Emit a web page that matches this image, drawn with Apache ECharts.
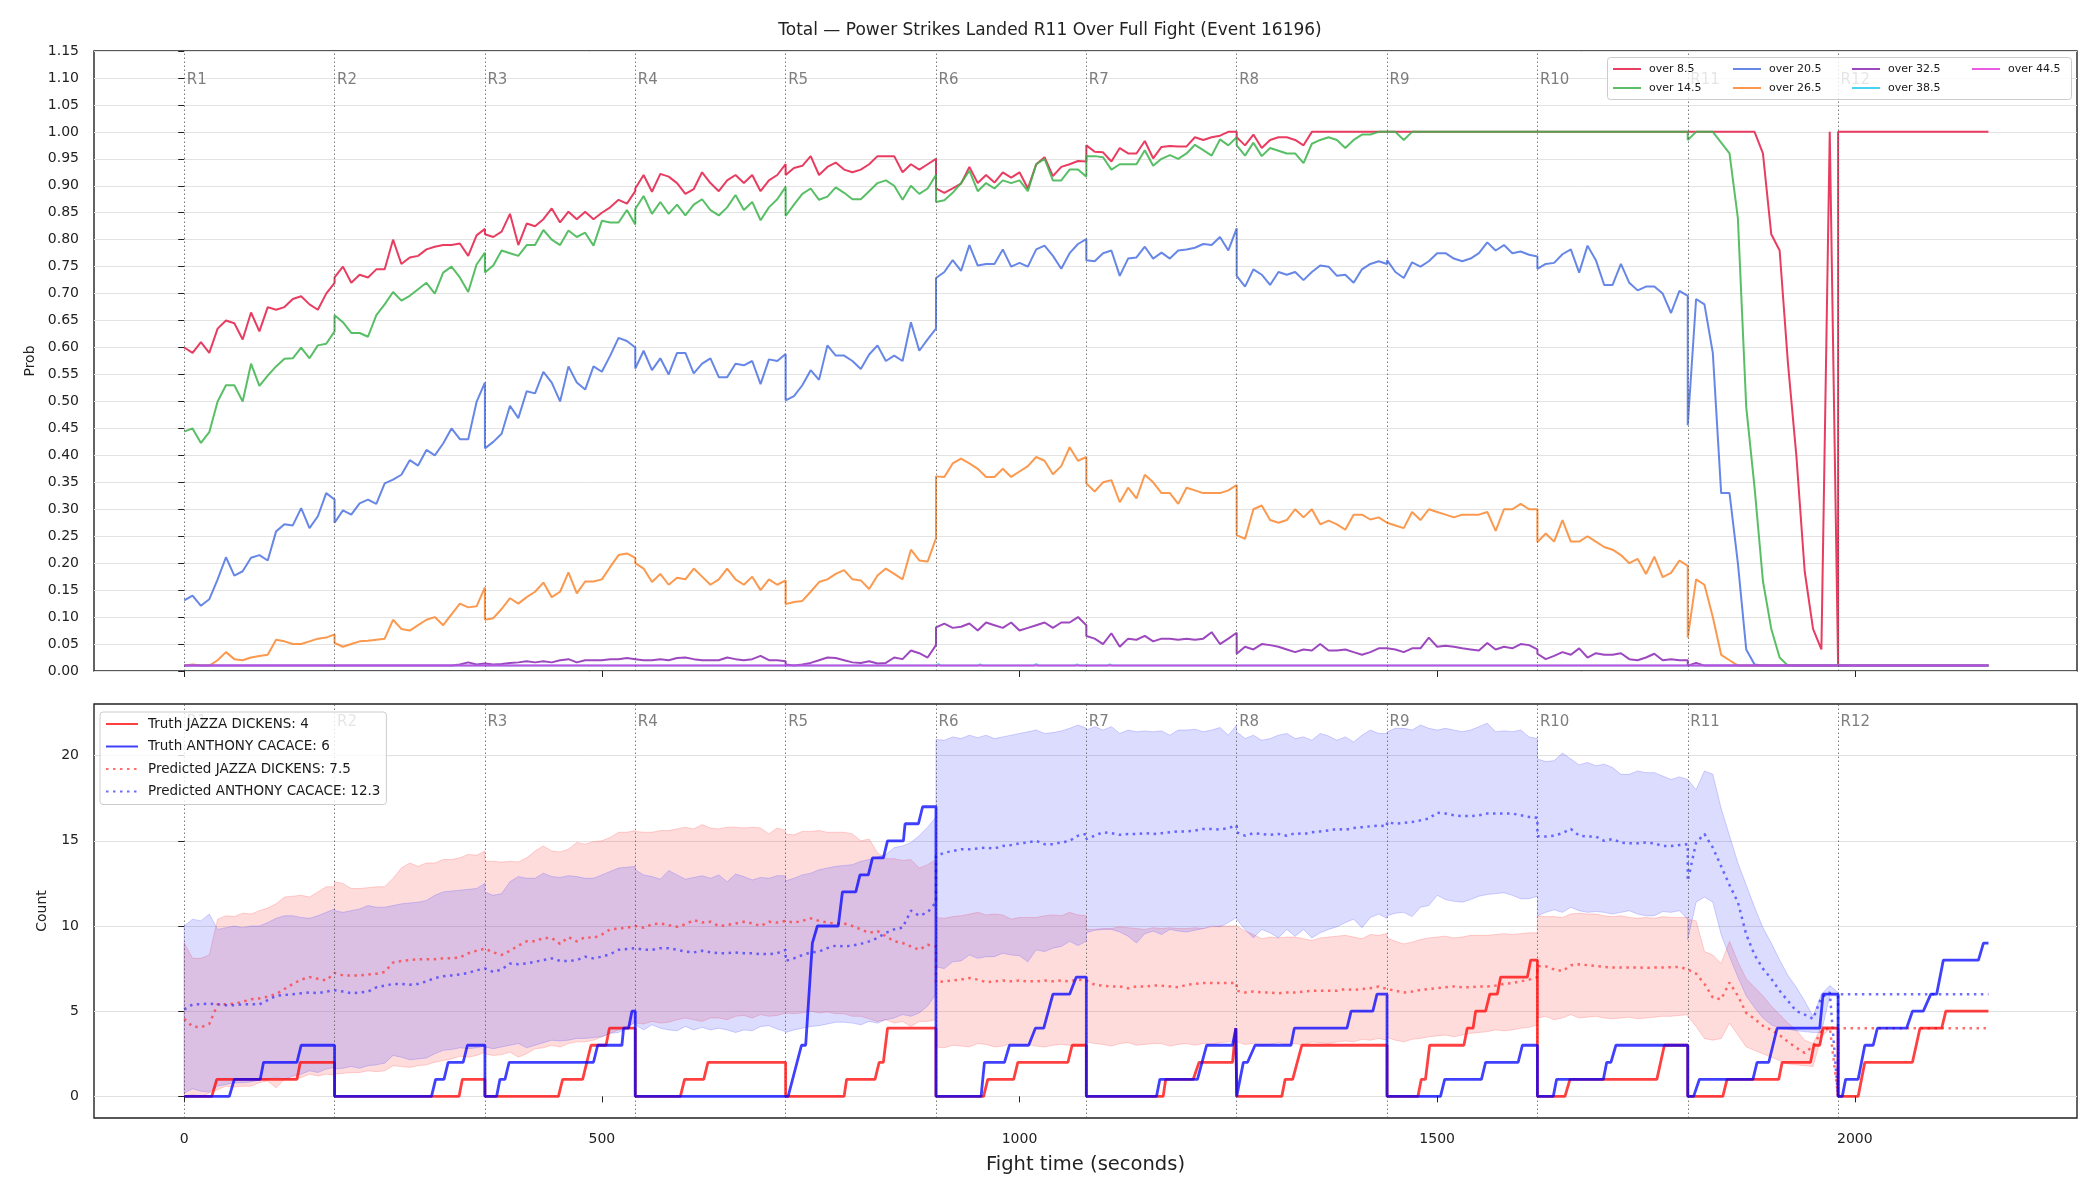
<!DOCTYPE html>
<html><head><meta charset="utf-8">
<script src="https://cdn.jsdelivr.net/npm/echarts@6/dist/echarts.min.js"></script>
<style>html,body{margin:0;padding:0;background:#fff}#c{width:2100px;height:1200px}</style>
</head><body><div id="c"></div>
<script>
// ---------------- DATA ----------------
const roundStarts = [0,180,360,540,720,900,1080,1260,1440,1620,1800,1980];
const roundLabels = ['R1','R2','R3','R4','R5','R6','R7','R8','R9','R10','R11','R12'];
const xTicks = [0,500,1000,1500,2000];
const countTicks = [0,5,10,15,20];
const SAMPLE_STEP = 10;      // seconds between samples inside a round
const SAMPLES_PER_ROUND = 19; // 0..180 s

// Probabilities, one sub-array per round (samples every 10 s, 0..180)
const over85 = [
 [0.60,0.59,0.61,0.59,0.635,0.65,0.645,0.615,0.665,0.63,0.675,0.67,0.675,0.69,0.695,0.68,0.67,0.70,0.72],
 [0.73,0.75,0.72,0.735,0.73,0.745,0.745,0.80,0.755,0.767,0.77,0.782,0.787,0.79,0.79,0.793,0.77,0.808,0.82],
 [0.81,0.805,0.815,0.848,0.79,0.83,0.825,0.838,0.858,0.832,0.852,0.838,0.852,0.838,0.85,0.86,0.874,0.867,0.89],
 [0.895,0.92,0.889,0.922,0.917,0.905,0.885,0.894,0.925,0.905,0.89,0.91,0.92,0.905,0.92,0.89,0.91,0.92,0.94],
 [0.92,0.933,0.937,0.955,0.92,0.935,0.943,0.93,0.925,0.93,0.94,0.955,0.955,0.955,0.925,0.94,0.93,0.94,0.95],
 [0.895,0.887,0.895,0.904,0.935,0.905,0.92,0.906,0.925,0.915,0.925,0.895,0.94,0.953,0.918,0.935,0.94,0.946,0.945],
 [0.975,0.963,0.962,0.945,0.97,0.96,0.96,0.983,0.951,0.972,0.974,0.973,0.973,0.99,0.985,0.99,0.993,1,1],
 [0.99,0.975,0.995,0.97,0.985,0.99,0.99,0.985,0.975,1,1,1,1,1,1,1,1,1,1],
 [1,1,1,1,1,1,1,1,1,1,1,1,1,1,1,1,1,1,1],
 [1,1,1,1,1,1,1,1,1,1,1,1,1,1,1,1,1,1,1],
 [1,1,1,1,1,1,1,1,1,0.96,0.81,0.78,0.57,0.40,0.185,0.078,0.04,1,0.01],
 [1,1,1,1,1,1,1,1,1,1,1,1,1,1,1,1,1,1,1]
];
const over145 = [
 [0.444,0.45,0.423,0.443,0.5,0.53,0.53,0.5,0.57,0.529,0.548,0.565,0.579,0.58,0.6,0.58,0.604,0.607,0.63],
 [0.66,0.647,0.627,0.627,0.62,0.66,0.68,0.703,0.687,0.696,0.708,0.72,0.7,0.739,0.75,0.73,0.703,0.754,0.776],
 [0.739,0.752,0.78,0.775,0.77,0.79,0.79,0.818,0.8,0.79,0.817,0.805,0.813,0.789,0.835,0.832,0.832,0.855,0.828],
 [0.857,0.881,0.848,0.87,0.848,0.865,0.845,0.865,0.875,0.855,0.845,0.86,0.883,0.855,0.87,0.836,0.86,0.875,0.898],
 [0.844,0.865,0.885,0.895,0.874,0.88,0.897,0.887,0.875,0.875,0.89,0.905,0.91,0.9,0.874,0.9,0.885,0.895,0.92],
 [0.87,0.873,0.887,0.905,0.928,0.89,0.905,0.895,0.91,0.905,0.91,0.89,0.94,0.95,0.91,0.91,0.93,0.93,0.917],
 [0.955,0.955,0.953,0.93,0.94,0.94,0.94,0.966,0.937,0.95,0.957,0.95,0.96,0.976,0.966,0.956,0.986,0.975,0.99],
 [0.975,0.956,0.98,0.955,0.97,0.965,0.96,0.96,0.942,0.978,0.985,0.99,0.985,0.97,0.985,0.995,0.995,1,1],
 [1,1,0.985,1,1,1,1,1,1,1,1,1,1,1,1,1,1,1,1],
 [1,1,1,1,1,1,1,1,1,1,1,1,1,1,1,1,1,1,1],
 [0.985,1,1,1,0.98,0.96,0.84,0.49,0.34,0.167,0.078,0.025,0.01,0.01,0.01,0.01,0.01,0.01,0.01],
 [0.01,0.01,0.01,0.01,0.01,0.01,0.01,0.01,0.01,0.01,0.01,0.01,0.01,0.01,0.01,0.01,0.01,0.01,0.01]
];
const over205 = [
 [0.131,0.14,0.121,0.133,0.17,0.211,0.177,0.185,0.21,0.215,0.205,0.259,0.272,0.27,0.302,0.265,0.287,0.33,0.318],
 [0.275,0.298,0.29,0.311,0.318,0.31,0.348,0.355,0.364,0.391,0.381,0.41,0.4,0.422,0.45,0.43,0.43,0.499,0.535],
 [0.413,0.425,0.44,0.492,0.469,0.519,0.515,0.555,0.535,0.5,0.565,0.535,0.522,0.565,0.555,0.585,0.618,0.612,0.6],
 [0.561,0.594,0.558,0.58,0.55,0.59,0.59,0.552,0.57,0.58,0.545,0.545,0.57,0.567,0.575,0.532,0.578,0.575,0.588],
 [0.502,0.51,0.53,0.558,0.54,0.604,0.585,0.585,0.575,0.56,0.587,0.604,0.575,0.585,0.575,0.647,0.594,0.615,0.635],
 [0.729,0.74,0.762,0.742,0.79,0.752,0.755,0.755,0.782,0.75,0.757,0.75,0.782,0.789,0.77,0.746,0.775,0.792,0.801],
 [0.762,0.76,0.775,0.78,0.733,0.765,0.767,0.787,0.765,0.776,0.765,0.78,0.782,0.785,0.792,0.79,0.805,0.78,0.821],
 [0.733,0.713,0.745,0.735,0.716,0.74,0.735,0.74,0.725,0.74,0.752,0.75,0.733,0.735,0.72,0.745,0.755,0.76,0.755],
 [0.762,0.74,0.729,0.758,0.75,0.76,0.775,0.775,0.765,0.76,0.765,0.775,0.795,0.78,0.79,0.775,0.778,0.772,0.769],
 [0.746,0.755,0.757,0.773,0.782,0.739,0.789,0.762,0.716,0.716,0.755,0.72,0.706,0.713,0.713,0.7,0.664,0.705,0.696],
 [0.456,0.69,0.68,0.59,0.33,0.33,0.2,0.04,0.012,0.01,0.01,0.01,0.01,0.01,0.01,0.01,0.01,0.01,0.01],
 [0.01,0.01,0.01,0.01,0.01,0.01,0.01,0.01,0.01,0.01,0.01,0.01,0.01,0.01,0.01,0.01,0.01,0.01,0.01]
];
const over265 = [
 [0.01,0.012,0.01,0.01,0.02,0.035,0.022,0.02,0.025,0.028,0.03,0.058,0.055,0.05,0.05,0.055,0.06,0.062,0.068],
 [0.052,0.045,0.05,0.055,0.056,0.058,0.06,0.095,0.078,0.075,0.085,0.095,0.1,0.085,0.105,0.125,0.118,0.12,0.155],
 [0.095,0.098,0.115,0.135,0.125,0.137,0.147,0.164,0.137,0.147,0.183,0.144,0.166,0.166,0.17,0.193,0.215,0.218,0.21],
 [0.2,0.19,0.165,0.18,0.16,0.173,0.17,0.19,0.175,0.16,0.17,0.19,0.17,0.16,0.175,0.15,0.17,0.16,0.168],
 [0.124,0.128,0.13,0.147,0.165,0.17,0.18,0.187,0.17,0.168,0.152,0.177,0.19,0.18,0.17,0.225,0.205,0.203,0.246],
 [0.361,0.36,0.385,0.394,0.385,0.375,0.36,0.36,0.375,0.36,0.37,0.38,0.397,0.39,0.365,0.38,0.415,0.39,0.397],
 [0.348,0.333,0.35,0.354,0.313,0.34,0.32,0.364,0.35,0.33,0.33,0.31,0.34,0.335,0.33,0.33,0.33,0.335,0.345],
 [0.252,0.245,0.3,0.307,0.28,0.275,0.28,0.3,0.285,0.3,0.272,0.279,0.272,0.262,0.29,0.29,0.281,0.285,0.275],
 [0.275,0.27,0.265,0.295,0.28,0.3,0.295,0.29,0.285,0.29,0.29,0.29,0.295,0.26,0.3,0.3,0.31,0.3,0.3],
 [0.239,0.255,0.24,0.28,0.24,0.24,0.25,0.24,0.23,0.225,0.215,0.2,0.208,0.18,0.212,0.174,0.182,0.205,0.195],
 [0.062,0.17,0.16,0.1,0.03,0.02,0.01,0.01,0.01,0.01,0.01,0.01,0.01,0.01,0.01,0.01,0.01,0.01,0.01],
 [0.01,0.01,0.01,0.01,0.01,0.01,0.01,0.01,0.01,0.01,0.01,0.01,0.01,0.01,0.01,0.01,0.01,0.01,0.01]
];
const over325 = [
 [0.01,0.01,0.01,0.01,0.01,0.01,0.01,0.01,0.01,0.01,0.01,0.01,0.01,0.01,0.01,0.01,0.01,0.01,0.01],
 [0.01,0.01,0.01,0.01,0.01,0.01,0.01,0.01,0.01,0.01,0.01,0.01,0.01,0.01,0.01,0.012,0.016,0.012,0.014],
 [0.012,0.012,0.013,0.015,0.016,0.018,0.016,0.018,0.016,0.02,0.022,0.016,0.02,0.02,0.02,0.022,0.022,0.024,0.022],
 [0.022,0.02,0.02,0.022,0.02,0.024,0.025,0.022,0.02,0.02,0.02,0.025,0.022,0.02,0.022,0.028,0.02,0.02,0.018],
 [0.012,0.01,0.012,0.015,0.02,0.025,0.024,0.02,0.016,0.015,0.018,0.014,0.015,0.025,0.022,0.038,0.033,0.025,0.048],
 [0.081,0.088,0.08,0.082,0.088,0.075,0.09,0.085,0.08,0.09,0.075,0.08,0.085,0.09,0.08,0.09,0.09,0.1,0.085],
 [0.065,0.06,0.05,0.07,0.045,0.06,0.058,0.065,0.055,0.06,0.06,0.058,0.06,0.058,0.06,0.072,0.05,0.06,0.071],
 [0.032,0.045,0.04,0.05,0.048,0.045,0.04,0.035,0.04,0.038,0.05,0.038,0.038,0.04,0.035,0.03,0.035,0.042,0.042],
 [0.045,0.04,0.035,0.042,0.042,0.062,0.045,0.047,0.045,0.042,0.04,0.038,0.052,0.04,0.045,0.042,0.05,0.048,0.04],
 [0.032,0.022,0.028,0.035,0.03,0.042,0.025,0.033,0.03,0.03,0.033,0.022,0.02,0.025,0.032,0.02,0.022,0.02,0.02],
 [0.01,0.015,0.01,0.01,0.01,0.01,0.01,0.01,0.01,0.01,0.01,0.01,0.01,0.01,0.01,0.01,0.01,0.01,0.01],
 [0.01,0.01,0.01,0.01,0.01,0.01,0.01,0.01,0.01,0.01,0.01,0.01,0.01,0.01,0.01,0.01,0.01,0.01,0.01]
];
// nearly flat series: [time, prob]
const over385 = [[0,0.01],[900,0.01],[903,0.013],[906,0.01],[950,0.01],[953,0.012],[956,0.01],[1017,0.01],[1020,0.013],[1023,0.01],[1066,0.01],[1069,0.012],[1072,0.01],[1105,0.01],[1108,0.012],[1111,0.01],[2160,0.01]];
const over445 = [[0,0.01],[2160,0.01]];

// Truth step counts: [time, count]
const truthRed = [
 [0,0],[33,0],[39,1],[135,1],[139,2],[180,2],
 [180,0],[329,0],[333,1],[360,1],
 [360,0],[448,0],[453,1],[477,1],[482,2],[487,3],[505,3],[509,4],[540,4],
 [540,0],[594,0],[599,1],[622,1],[627,2],[720,2],
 [720,0],[790,0],[793,1],[827,1],[832,2],[837,2],[842,4],[900,4],
 [900,0],[957,0],[962,1],[993,1],[998,2],[1058,2],[1063,3],[1080,3],
 [1080,0],[1172,0],[1175,1],[1208,1],[1215,2],[1255,2],[1259,4],[1260,4],
 [1260,0],[1314,0],[1318,1],[1327,1],[1338,3],[1440,3],
 [1440,0],[1477,0],[1481,1],[1486,1],[1491,3],[1532,3],[1536,4],[1543,4],[1546,5],[1558,5],[1563,6],[1572,6],[1576,7],[1608,7],[1612,8],[1620,8],
 [1620,0],[1653,0],[1659,1],[1763,1],[1772,3],[1800,3],
 [1800,0],[1842,0],[1847,1],[1909,1],[1913,2],[1947,2],[1951,3],[1958,3],[1962,4],[1980,4],
 [1980,0],[2004,0],[2012,2],[2069,2],[2078,4],[2104,4],[2109,5],[2160,5]
];
const truthBlue = [
 [0,0],[54,0],[60,1],[91,1],[95,2],[135,2],[140,3],[180,3],
 [180,0],[296,0],[301,1],[311,1],[316,2],[334,2],[339,3],[360,3],
 [360,0],[374,0],[378,1],[384,1],[389,2],[490,2],[495,3],[524,3],[526,4],[532,4],[536,5],[540,5],
 [540,0],[720,0],
 [720,0],[723,0],[739,3],[744,3],[752,9],[758,10],[783,10],[788,12],[804,12],[809,13],[819,13],[824,14],[837,14],[842,15],[861,15],[863,16],[879,16],[884,17],[900,17],
 [900,0],[954,0],[958,2],[982,2],[988,3],[1011,3],[1019,4],[1029,4],[1040,6],[1060,6],[1068,7],[1080,7],
 [1080,0],[1164,0],[1168,1],[1213,1],[1224,3],[1255,3],[1259,4],[1260,4],
 [1260,0],[1268,2],[1273,2],[1282,3],[1325,3],[1329,4],[1392,4],[1397,5],[1423,5],[1428,6],[1440,6],
 [1440,0],[1504,0],[1509,1],[1553,1],[1558,2],[1597,2],[1602,3],[1620,3],
 [1620,0],[1639,0],[1643,1],[1699,1],[1703,2],[1708,2],[1714,3],[1800,3],
 [1800,0],[1807,0],[1814,1],[1878,1],[1883,2],[1897,2],[1902,3],[1904,3],[1907,4],[1958,4],[1962,6],[1980,6],
 [1980,0],[1985,0],[1989,1],[2004,1],[2012,3],[2022,3],[2027,4],[2062,4],[2069,5],[2082,5],[2091,6],[2098,6],[2106,8],[2148,8],[2154,9],[2160,9]
];

// Predicted means per round (10 s samples)
const predRed = [
 [4.55,4.1,4.05,4.25,5.4,5.4,5.45,5.55,5.7,5.75,5.85,6.0,6.3,6.6,6.85,7.0,6.9,6.8,7.25],
 [7.25,7.1,7.1,7.1,7.15,7.2,7.3,7.85,7.95,8.0,8.05,8.05,8.05,8.1,8.1,8.15,8.4,8.55,8.67],
 [8.6,8.45,8.3,8.55,8.85,9.1,9.1,9.3,9.3,8.95,9.35,9.1,9.35,9.3,9.5,9.8,9.85,9.9,10.0],
 [10.0,9.9,10.1,10.15,10.05,9.95,10.1,10.35,10.2,10.25,10.0,10.05,10.15,10.25,10.15,10.0,10.25,10.2,10.3],
 [10.2,10.2,10.3,10.45,10.3,10.2,10.15,10.15,10.0,9.8,9.6,9.7,9.4,9.1,9.0,8.8,8.6,8.9,8.8],
 [6.7,6.75,6.8,6.85,6.95,6.85,6.7,6.75,6.8,6.75,6.8,6.75,6.75,6.8,6.75,6.8,6.75,6.85,6.8],
 [6.75,6.55,6.5,6.45,6.45,6.35,6.45,6.45,6.5,6.5,6.45,6.4,6.55,6.6,6.65,6.65,6.65,6.65,6.65],
 [6.2,6.1,6.15,6.1,6.1,6.05,6.1,6.1,6.15,6.2,6.2,6.2,6.2,6.3,6.25,6.3,6.35,6.45,6.3],
 [6.3,6.2,6.1,6.15,6.25,6.3,6.35,6.4,6.45,6.4,6.4,6.45,6.45,6.5,6.6,6.65,6.75,6.85,7.0],
 [7.65,7.63,7.45,7.35,7.7,7.75,7.7,7.65,7.6,7.56,7.57,7.56,7.56,7.55,7.56,7.56,7.58,7.6,7.45],
 [7.36,7.2,6.6,5.8,5.7,6.68,5.9,4.9,4.55,4.14,3.9,3.6,3.2,2.85,2.55,2.95,3.8,4.04,0],
 [4,4,4,4,4,4,4,4,4,4,4,4,4,4,4,4,4,4,4]
];
const predBlue = [
 [5.1,5.4,5.4,5.45,5.4,5.35,5.35,5.4,5.4,5.4,5.65,5.9,5.95,6.0,6.05,6.1,6.05,6.15,6.23],
 [6.2,6.15,6.05,6.1,6.15,6.4,6.5,6.6,6.6,6.55,6.6,6.75,6.95,7.05,7.1,7.15,7.25,7.4,7.5],
 [7.5,7.3,7.45,7.8,7.75,7.8,7.9,8.0,8.1,7.95,7.95,8.0,8.2,8.1,8.2,8.35,8.6,8.65,8.7],
 [8.7,8.6,8.6,8.7,8.7,8.6,8.5,8.45,8.55,8.45,8.4,8.4,8.45,8.4,8.4,8.35,8.35,8.4,8.6],
 [7.95,8.1,8.3,8.45,8.5,8.7,8.85,8.8,8.85,8.95,9.1,9.3,9.6,9.8,9.9,10.9,10.6,10.8,11.4],
 [14.1,14.3,14.4,14.5,14.5,14.55,14.6,14.55,14.7,14.75,14.85,14.9,15.0,14.8,14.8,14.9,15.0,15.3,15.4],
 [15.1,15.3,15.5,15.45,15.35,15.4,15.4,15.45,15.4,15.45,15.5,15.55,15.55,15.6,15.7,15.7,15.65,15.75,15.9],
 [15.5,15.3,15.45,15.4,15.35,15.4,15.3,15.45,15.4,15.5,15.55,15.6,15.7,15.65,15.75,15.8,15.85,15.9,15.85],
 [16.1,16.0,16.05,16.1,16.2,16.3,16.65,16.6,16.5,16.45,16.45,16.5,16.6,16.6,16.6,16.6,16.5,16.4,16.35],
 [15.27,15.25,15.3,15.45,15.7,15.3,15.25,15.25,15.0,15.1,14.9,14.85,14.85,14.9,14.85,14.7,14.7,14.75,14.8],
 [12.64,14.9,15.4,14.6,13.5,12.4,11.4,9.5,8.3,7.5,6.9,6.2,5.6,5.0,4.8,4.55,5.8,6.1,0],
 [6,6,6,6,6,6,6,6,6,6,6,6,6,6,6,6,6,6,6]
];
// Prediction bands (R1..R11)
const redHi = [
 [9.0,8.1,8.1,8.3,10.4,10.6,10.55,10.75,10.7,10.9,11.05,11.3,11.7,11.75,11.8,11.7,12.0,12.3,12.3],
 [12.6,12.5,12.2,12.2,12.25,12.3,12.3,12.8,13.4,13.7,13.5,13.7,13.7,13.9,13.9,14.0,14.2,14.15,14.4],
 [13.8,13.8,13.75,13.8,13.75,14.0,14.4,14.7,14.4,14.35,14.5,14.9,14.8,14.95,15.0,15.2,15.5,15.5,15.6],
 [15.55,15.5,15.5,15.6,15.6,15.7,15.8,15.7,15.95,15.75,15.7,15.8,15.8,15.75,15.8,15.75,15.4,15.75,15.6],
 [15.4,15.35,15.55,15.55,15.6,15.5,15.5,15.5,15.4,15.0,15.1,14.3,13.95,13.95,13.85,13.9,13.4,13.6,13.9],
 [10.5,10.45,10.55,10.6,10.7,10.8,10.65,10.7,10.65,10.4,10.5,10.5,10.5,10.6,10.65,10.6,10.8,10.65,10.6],
 [9.8,9.8,9.85,9.85,9.95,9.9,9.85,9.8,9.9,9.85,9.9,9.85,9.85,9.9,9.85,9.95,10.0,10.0,10.0],
 [10.0,9.7,9.5,9.25,9.35,9.3,9.35,9.35,9.25,9.15,9.3,9.35,9.4,9.45,9.35,9.25,9.5,9.45,9.55],
 [9.3,9.1,8.95,9.05,9.2,9.3,9.35,9.4,9.3,9.35,9.45,9.45,9.45,9.5,9.55,9.5,9.55,9.6,9.6],
 [10.6,10.55,10.55,10.5,10.7,10.75,10.7,10.7,10.6,10.55,10.6,10.5,10.45,10.5,10.45,10.55,10.5,10.5,10.5],
 [10.4,10.3,8.5,8.3,7.8,9.1,7.9,6.9,6.4,5.9,5.3,4.8,4.3,3.9,3.3,3.1,4.1,4.1,4.05]
];
const redLo = [
 [0.0,0.1,0.0,0.2,0.4,0.6,0.55,0.6,0.6,0.8,0.9,0.5,1.0,1.0,1.1,1.3,1.2,1.3,1.25],
 [1.3,1.35,1.4,1.4,1.5,1.45,1.5,1.8,1.75,1.7,1.8,1.85,2.0,2.1,2.2,2.35,2.3,2.4,2.6],
 [2.5,2.4,2.45,2.6,2.3,2.5,2.8,2.85,3.0,2.9,3.1,3.2,3.2,3.3,3.5,3.7,3.9,4.1,4.3],
 [4.3,4.25,4.4,4.3,4.35,4.5,4.6,4.5,4.4,4.6,4.6,4.5,4.7,4.75,4.6,4.8,4.7,4.75,4.9],
 [4.9,4.85,4.9,5.0,4.9,4.95,4.85,4.85,4.7,4.7,4.55,4.4,4.5,4.3,4.4,4.1,4.4,4.4,4.5],
 [2.9,2.85,3.0,2.95,2.9,3.1,3.05,2.9,2.95,3.1,3.0,3.05,2.95,2.9,3.0,3.05,3.0,2.95,3.1],
 [3.2,3.1,3.05,2.95,3.1,3.15,3.0,3.05,3.1,3.1,2.95,3.05,3.1,3.0,3.1,3.05,3.15,3.2,3.25],
 [3.2,3.05,3.1,3.0,3.05,3.15,3.05,3.1,3.0,3.2,3.15,3.1,3.2,3.25,3.2,3.35,3.3,3.4,3.3],
 [3.45,3.3,3.2,3.35,3.4,3.5,3.55,3.6,3.5,3.6,3.7,3.75,3.8,3.9,3.85,3.9,4.0,4.05,4.2],
 [4.6,4.7,4.5,4.6,4.8,4.6,4.65,4.7,4.6,4.55,4.6,4.65,4.55,4.6,4.65,4.7,4.7,4.75,4.8],
 [4.7,4.1,3.4,3.3,3.4,4.3,3.6,2.9,2.7,2.5,2.3,2.1,1.9,1.85,1.8,1.75,3.5,3.95,3.95]
];
const blueHi = [
 [10.0,10.4,10.3,10.7,9.8,9.9,10.0,9.9,10.0,10.0,10.2,10.45,10.6,10.6,10.5,10.45,10.6,10.8,11.0],
 [10.9,10.8,10.9,11.0,11.2,11.1,11.1,11.2,11.3,11.35,11.4,11.5,11.8,12.0,12.05,12.1,12.15,12.2,12.5],
 [12.0,11.8,11.9,12.6,12.9,12.8,12.8,13.1,12.9,12.85,12.95,12.9,12.8,12.8,13.0,13.2,13.4,13.45,13.5],
 [13.3,13.0,12.9,12.75,13.25,13.0,12.75,12.85,12.95,12.8,13.0,12.6,13.05,12.9,12.7,12.85,12.8,12.95,12.95],
 [12.65,12.8,13.0,13.1,13.3,13.4,13.5,13.55,13.6,13.8,13.9,14.05,14.2,14.6,14.7,14.9,15.3,15.8,16.4],
 [20.95,20.9,21.1,21.0,21.2,21.05,21.2,21.0,21.1,21.2,21.3,21.4,21.5,21.3,21.35,21.45,21.6,21.8,21.6],
 [21.5,21.7,21.5,21.7,21.3,21.5,21.4,21.45,21.4,21.45,21.2,21.5,21.5,21.55,21.4,21.5,21.65,21.2,21.8],
 [21.4,21.0,21.2,20.9,21.0,21.2,21.3,21.0,21.1,20.9,21.3,21.15,20.9,21.1,20.8,21.2,21.5,21.3,21.3],
 [21.4,21.6,21.6,21.5,21.8,21.6,21.5,21.6,21.5,21.4,21.5,21.7,21.9,21.4,21.45,21.4,21.5,21.1,21.0],
 [19.8,19.65,19.7,20.15,19.8,19.45,19.6,19.4,19.5,19.3,18.9,18.9,19.1,19.0,19.0,18.8,18.6,18.75,18.6],
 [18.6,18.0,19.1,18.9,16.9,15.3,13.7,12.4,11.1,9.9,9.0,8.0,7.1,6.4,5.6,4.7,6.0,6.5,6.1]
];
const blueLo = [
 [0.2,0.45,0.3,0.25,0.6,0.7,0.8,0.8,0.85,0.95,1.0,1.1,1.0,1.2,1.3,1.5,1.4,1.6,1.7],
 [1.6,1.65,1.75,1.65,1.8,1.85,1.95,2.4,2.3,2.15,2.2,2.25,2.5,2.7,2.75,2.85,2.8,2.85,2.95],
 [2.9,2.8,2.9,3.0,3.1,2.85,3.0,3.15,3.3,3.25,3.3,3.4,3.4,3.45,3.5,3.7,3.75,4.0,4.4],
 [4.2,3.9,4.2,4.0,3.9,3.85,4.1,3.9,4.05,3.9,4.0,3.9,3.75,3.9,3.85,4.1,4.15,3.95,3.8],
 [3.75,3.9,4.0,4.1,4.15,4.25,4.35,4.35,4.3,4.2,4.4,4.3,4.5,4.6,4.8,4.7,4.9,5.3,6.0],
 [7.6,7.5,7.9,7.95,8.3,8.1,8.2,8.2,8.4,8.3,8.25,7.9,8.6,8.5,8.7,8.8,9.1,8.85,9.1],
 [9.6,9.75,9.8,9.8,9.65,9.4,9.0,9.55,9.7,9.5,9.8,9.7,9.65,9.75,9.85,10.0,9.95,10.2,10.5],
 [10.4,9.8,9.3,9.8,9.6,9.3,9.8,9.4,9.8,9.3,9.6,9.8,9.95,10.2,10.4,9.9,10.5,10.7,10.45],
 [10.6,10.75,10.8,10.55,11.1,11.2,11.8,11.55,11.45,11.4,11.55,11.75,11.85,11.9,11.95,11.8,11.6,11.6,11.75],
 [10.6,10.8,10.95,10.8,11.1,10.9,10.8,10.85,10.8,10.7,10.8,10.9,10.7,10.6,10.6,10.85,10.8,10.9,10.4],
 [9.2,11.4,11.7,11.4,9.5,8.2,7.0,5.9,5.2,4.6,4.2,4.0,3.95,3.85,3.8,3.75,3.75,5.9,5.9]
];

// ---------------- BUILD ----------------
function roundTimes(nRounds){
  const t=[];
  for(let r=0;r<nRounds;r++) for(let k=0;k<SAMPLES_PER_ROUND;k++) t.push(roundStarts[r]+k*SAMPLE_STEP);
  return t;
}
function toPairs(rounds){
  const t = roundTimes(rounds.length);
  const v = rounds.flat();
  return v.map((y,i)=>[t[i], y]);
}

const FONT = 'DejaVu Sans';
const X_MIN = -108, X_MAX = 2266;
const TOP_YMAX = 1.15, BOT_YMIN = -1.27, BOT_YMAX = 23.03;

const probDefs = [
  {name:'over 8.5',  data: toPairs(over85),  color:'rgba(230,40,80,0.9)'},
  {name:'over 14.5', data: toPairs(over145), color:'rgba(60,180,75,0.85)'},
  {name:'over 20.5', data: toPairs(over205), color:'rgba(65,105,225,0.8)'},
  {name:'over 26.5', data: toPairs(over265), color:'rgba(250,130,40,0.82)'},
  {name:'over 32.5', data: toPairs(over325), color:'rgba(140,40,180,0.85)'},
  {name:'over 38.5', data: over385,          color:'rgba(30,200,240,0.8)'},
  {name:'over 44.5', data: over445,          color:'rgba(230,50,220,0.8)'}
];

const series = [];
probDefs.forEach((d,i)=>{
  series.push({
    type:'line', name:d.name, xAxisIndex:0, yAxisIndex:0, data:d.data,
    symbol:'none', showSymbol:false, z:2+i*0.01,
    lineStyle:{color:d.color, width:2}, itemStyle:{color:d.color}
  });
});

function bandSeries(loRounds, hiRounds, fill, stroke){
  const t = roundTimes(loRounds.length);
  const lo = loRounds.flat(), hi = hiRounds.flat();
  const data = t.map((x,i)=>[x, lo[i], hi[i]]);
  return {
    type:'custom', xAxisIndex:1, yAxisIndex:1, silent:true, z:1,
    data, encode:{x:0, y:[1,2]},
    renderItem(params, api){
      if (params.dataIndex !== 0) return null;
      const pts = [];
      for (let i=0;i<data.length;i++) pts.push(api.coord([data[i][0], data[i][2]]));
      for (let i=data.length-1;i>=0;i--) pts.push(api.coord([data[i][0], data[i][1]]));
      return {type:'polygon', shape:{points:pts}, style:{fill:fill, stroke:stroke, lineWidth:1}};
    }
  };
}
series.push(bandSeries(redLo, redHi, 'rgba(255,80,80,0.2)', 'rgba(255,80,80,0.25)'));
series.push(bandSeries(blueLo, blueHi, 'rgba(80,80,255,0.2)', 'rgba(80,80,255,0.25)'));

series.push({type:'line', name:'Predicted JAZZA DICKENS: 7.5', xAxisIndex:1, yAxisIndex:1, data:toPairs(predRed),
  symbol:'none', z:3, lineStyle:{color:'rgba(255,50,50,0.7)', width:2.5, type:[2.5,4.5]}, itemStyle:{color:'rgba(255,50,50,0.7)'}});
series.push({type:'line', name:'Predicted ANTHONY CACACE: 12.3', xAxisIndex:1, yAxisIndex:1, data:toPairs(predBlue),
  symbol:'none', z:3, lineStyle:{color:'rgba(50,50,255,0.7)', width:2.5, type:[2.5,4.5]}, itemStyle:{color:'rgba(50,50,255,0.7)'}});
series.push({type:'line', name:'Truth JAZZA DICKENS: 4', xAxisIndex:1, yAxisIndex:1, data:truthRed,
  symbol:'none', z:4, lineStyle:{color:'rgba(255,0,0,0.75)', width:2.8}, itemStyle:{color:'rgba(255,0,0,0.75)'}});
series.push({type:'line', name:'Truth ANTHONY CACACE: 6', xAxisIndex:1, yAxisIndex:1, data:truthBlue,
  symbol:'none', z:5, lineStyle:{color:'rgba(0,0,255,0.75)', width:2.8}, itemStyle:{color:'rgba(0,0,255,0.75)'}});

// round markers (dotted lines + labels) for both panels
[[0, TOP_YMAX], [1, BOT_YMAX]].forEach(([gi, ymax])=>{
  series.push({
    type:'scatter', xAxisIndex:gi, yAxisIndex:gi, silent:true, z:1,
    symbol:'circle', symbolSize:1, itemStyle:{color:'rgba(0,0,0,0)'},
    data: roundStarts.map(x=>[x, ymax*0.95]),
    label:{show:true, position:[3,6], align:'left', verticalAlign:'bottom',
      formatter:p=>roundLabels[p.dataIndex], color:'#5e5e5e', fontSize:15, fontFamily:FONT},
    markLine:{silent:true, symbol:['none','none'], label:{show:false},
      lineStyle:{color:'rgba(70,70,70,0.7)', width:1, type:[1.5,2.5]},
      data: roundStarts.map(x=>({xAxis:x}))}
  });
});

const axisLabelStyle = {color:'#222', fontSize:14, fontFamily:FONT};
const topLegendCols = [['over 8.5','over 14.5'],['over 20.5','over 26.5'],['over 32.5','over 38.5'],['over 44.5']];
const topLegendLeft = [1612,1732,1851,1971];

const option = {
  animation:false,
  backgroundColor:'#fff',
  textStyle:{fontFamily:FONT},
  title:{text:'Total \u2014 Power Strikes Landed R11 Over Full Fight (Event 16196)', left:'center', top:22, padding:0,
    textStyle:{fontSize:17, fontWeight:'normal', color:'#222', fontFamily:FONT}},
  grid:[
    {left:94, top:51, width:1983, height:620, show:true, borderColor:'#222', borderWidth:1.4, backgroundColor:'transparent'},
    {left:94, top:704, width:1983, height:414, show:true, borderColor:'#222', borderWidth:1.4, backgroundColor:'transparent'}
  ],
  xAxis:[
    {type:'value', gridIndex:0, min:X_MIN, max:X_MAX, axisLine:{show:false},
     axisTick:{show:true, customValues:xTicks, length:6, lineStyle:{color:'#222'}},
     axisLabel:{show:false, customValues:xTicks}, splitLine:{show:false}},
    {type:'value', gridIndex:1, min:X_MIN, max:X_MAX, axisLine:{show:false},
     axisTick:{show:true, customValues:xTicks, length:6, lineStyle:{color:'#222'}},
     axisLabel:Object.assign({customValues:xTicks, margin:14, formatter:v=>String(v)}, axisLabelStyle), splitLine:{show:false},
     name:'Fight time (seconds)', nameLocation:'middle', nameGap:37,
     nameTextStyle:{fontSize:19.5, color:'#222', fontFamily:FONT}}
  ],
  yAxis:[
    {type:'value', gridIndex:0, min:0, max:TOP_YMAX, interval:0.05, axisLine:{show:false},
     axisTick:{show:true, length:6, lineStyle:{color:'#222'}},
     axisLabel:Object.assign({margin:15, formatter:v=>v.toFixed(2)}, axisLabelStyle),
     splitLine:{show:true, lineStyle:{color:'#e3e3e3', width:1}},
     name:'Prob', nameLocation:'middle', nameGap:57, nameTextStyle:{fontSize:14, color:'#222', fontFamily:FONT}},
    {type:'value', gridIndex:1, min:BOT_YMIN, max:BOT_YMAX, axisLine:{show:false},
     axisTick:{show:true, customValues:countTicks, length:6, lineStyle:{color:'#222'}},
     axisLabel:Object.assign({customValues:countTicks, margin:15}, axisLabelStyle),
     splitLine:{show:true, lineStyle:{color:'#e0e0e0', width:1}},
     name:'Count', nameLocation:'middle', nameGap:45, nameTextStyle:{fontSize:14, color:'#222', fontFamily:FONT}}
  ],
  legend:[
    ...topLegendCols.map((names,i)=>({
      data:names, orient:'vertical', left:topLegendLeft[i], top:63, padding:0, itemGap:7,
      itemWidth:28, itemHeight:10, z:10, selectedMode:false, itemStyle:{opacity:0},
      textStyle:{fontSize:11, lineHeight:12, color:'#1a1a1a', fontFamily:FONT, padding:[0,0,0,3]}
    })),
    {data:['Truth JAZZA DICKENS: 4','Truth ANTHONY CACACE: 6','Predicted JAZZA DICKENS: 7.5','Predicted ANTHONY CACACE: 12.3'],
     orient:'vertical', left:100, top:712, padding:[4,6,5,5], itemGap:6.5, itemWidth:32, itemHeight:14,
     itemStyle:{opacity:0},
     backgroundColor:'rgba(255,255,255,0.8)', borderColor:'#cccccc', borderWidth:1, borderRadius:3, z:10, selectedMode:false,
     textStyle:{fontSize:13.5, lineHeight:16, color:'#1a1a1a', fontFamily:FONT, padding:[0,0,0,5]}}
  ],
  graphic:[{type:'rect', left:1607, top:57, z:8, silent:true,
    shape:{width:464, height:42, r:3}, style:{fill:'rgba(255,255,255,0.8)', stroke:'#cccccc', lineWidth:1}}],
  series
};

const chart = echarts.init(document.getElementById('c'), null, {renderer:'canvas'});
chart.setOption(option);
</script>
</body></html>
